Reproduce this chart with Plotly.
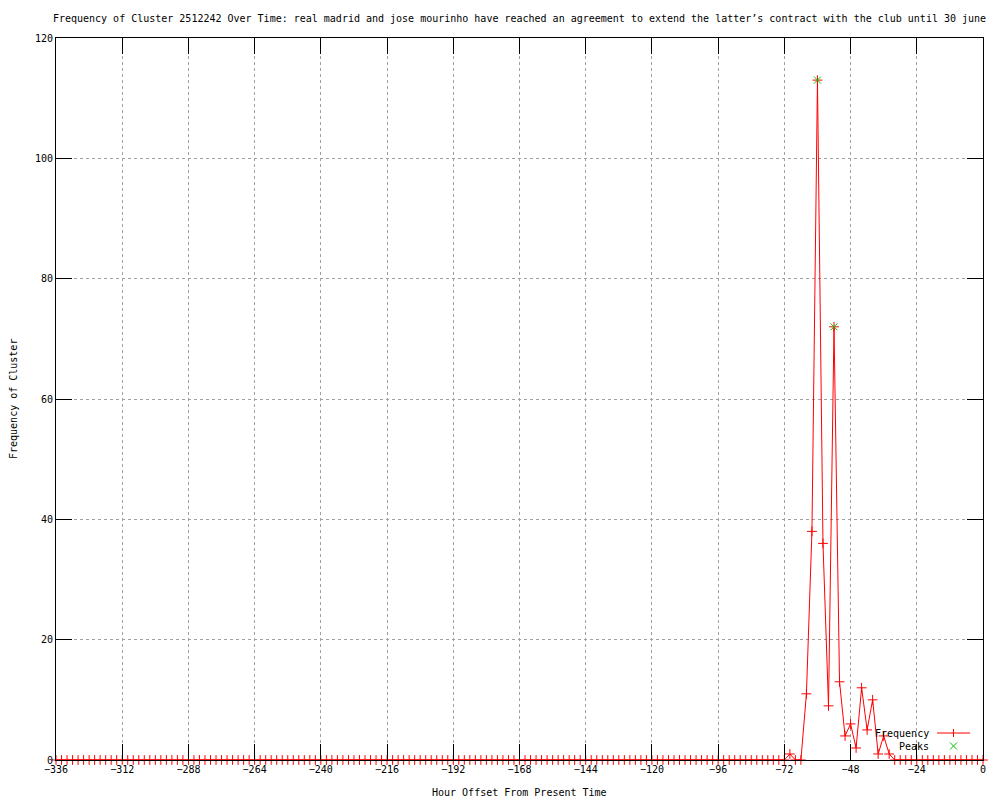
import plotly.graph_objects as go

# --- data -------------------------------------------------------------------
hours = list(range(-336, 1, 2))  # 2-hour bins, -336 .. 0

frequency = [
    0, 0, 0, 0, 0, 0, 0, 0, 0, 0, 0, 0,
    0, 0, 0, 0, 0, 0, 0, 0, 0, 0, 0, 0,
    0, 0, 0, 0, 0, 0, 0, 0, 0, 0, 0, 0,
    0, 0, 0, 0, 0, 0, 0, 0, 0, 0, 0, 0,
    0, 0, 0, 0, 0, 0, 0, 0, 0, 0, 0, 0,
    0, 0, 0, 0, 0, 0, 0, 0, 0, 0, 0, 0,
    0, 0, 0, 0, 0, 0, 0, 0, 0, 0, 0, 0,
    0, 0, 0, 0, 0, 0, 0, 0, 0, 0, 0, 0,
    0, 0, 0, 0, 0, 0, 0, 0, 0, 0, 0, 0,
    0, 0, 0, 0, 0, 0, 0, 0, 0, 0, 0, 0,
    0, 0, 0, 0, 0, 0, 0, 0, 0, 0, 0, 0,
    0, 1, 0, 0, 11, 38, 113, 36, 9, 72, 13, 4,
    6, 2, 12, 5, 10, 1, 4, 1,
    0, 0, 0, 0, 0, 0, 0, 0, 0, 0, 0, 0, 0, 0, 0, 0, 0,
]

peak_hours = [-60, -54]
peak_values = [113, 72]

x_ticks = list(range(-336, 1, 24))
y_ticks = list(range(0, 121, 20))

TITLE = ("Frequency of Cluster 2512242 Over Time: real madrid and jose mourinho "
         "have reached an agreement to extend the latter\u2019s contract with the "
         "club until 30 june")

# --- layout helpers ---------------------------------------------------------
# the page puts the figure 8px in from the top-left corner (body margin)
OFF = 8
W, H = 1000 - OFF, 800 - OFF
# plot area in screenshot pixels
L, R, T, B = 56, 983, 38, 760
FONT = "DejaVu Sans Mono, monospace"
RED = "#ff0000"
GREEN = "#00c000"


def px(xp):
    return (xp - L) / (R - L)


def py(yp):
    return (B - yp) / (B - T)


fig = go.Figure()

fig.add_trace(
    go.Scatter(
        x=hours,
        y=frequency,
        mode="lines+markers",
        name="Frequency",
        line={"color": RED, "width": 1},
        marker={"symbol": "cross-thin", "size": 7,
                "line": {"color": RED, "width": 1}},
        cliponaxis=False,
        showlegend=False,
        hoverinfo="skip",
    )
)
fig.add_trace(
    go.Scatter(
        x=peak_hours,
        y=peak_values,
        mode="markers",
        name="Peaks",
        marker={"symbol": "x-thin", "size": 7,
                "line": {"color": GREEN, "width": 1}},
        cliponaxis=False,
        showlegend=False,
        hoverinfo="skip",
    )
)

axis_common = dict(
    showline=True,
    linecolor="black",
    linewidth=1,
    mirror="ticks",
    ticks="inside",
    ticklen=16,
    tickwidth=1,
    tickcolor="black",
    showgrid=True,
    gridcolor="#a0a0a0",
    gridwidth=1,
    griddash="3px,3px",
    zeroline=False,
    tickfont={"family": FONT, "size": 10, "color": "black"},
)

fig.update_xaxes(range=[-336, 0], tickvals=x_ticks, **axis_common)
fig.update_yaxes(range=[0, 120], tickvals=y_ticks, **axis_common)

# gnuplot-style key: text on the left, sample on the right
shapes = [
    dict(type="line", xref="paper", yref="paper",
         x0=px(937), x1=px(970), y0=py(733), y1=py(733),
         line={"color": RED, "width": 1}),
    dict(type="line", xref="paper", yref="paper",
         x0=px(953.5), x1=px(953.5), y0=py(729), y1=py(737),
         line={"color": RED, "width": 1}),
    dict(type="line", xref="paper", yref="paper",
         x0=px(950), x1=px(957), y0=py(742.5), y1=py(749.5),
         line={"color": GREEN, "width": 1}),
    dict(type="line", xref="paper", yref="paper",
         x0=px(950), x1=px(957), y0=py(749.5), y1=py(742.5),
         line={"color": GREEN, "width": 1}),
]

text_font = {"family": FONT, "size": 10, "color": "black"}
annotations = [
    dict(text="Frequency", xref="paper", yref="paper", x=px(931), y=py(733),
         xanchor="right", yanchor="middle", showarrow=False, font=text_font),
    dict(text="Peaks", xref="paper", yref="paper", x=px(931), y=py(746),
         xanchor="right", yanchor="middle", showarrow=False, font=text_font),
    dict(text="Hour Offset From Present Time", xref="paper", yref="paper",
         x=0.5, y=py(792), xanchor="center", yanchor="middle",
         showarrow=False, font=text_font),
    dict(text="Frequency of Cluster", xref="paper", yref="paper",
         x=px(13), y=0.5, xanchor="center", yanchor="middle", textangle=-90,
         showarrow=False, font=text_font),
]

fig.update_layout(
    width=W,
    height=H,
    margin={"l": L - OFF, "r": W - (R - OFF), "t": T - OFF,
            "b": H - (B - OFF), "pad": 0},
    paper_bgcolor="white",
    plot_bgcolor="white",
    title={
        "text": TITLE,
        "x": 0.5,
        "xref": "paper",
        "y": 1 - (18 - OFF) / H,
        "yref": "container",
        "xanchor": "center",
        "yanchor": "middle",
        "font": text_font,
    },
    shapes=shapes,
    annotations=annotations,
    showlegend=False,
)

fig.write_html("out.html")
